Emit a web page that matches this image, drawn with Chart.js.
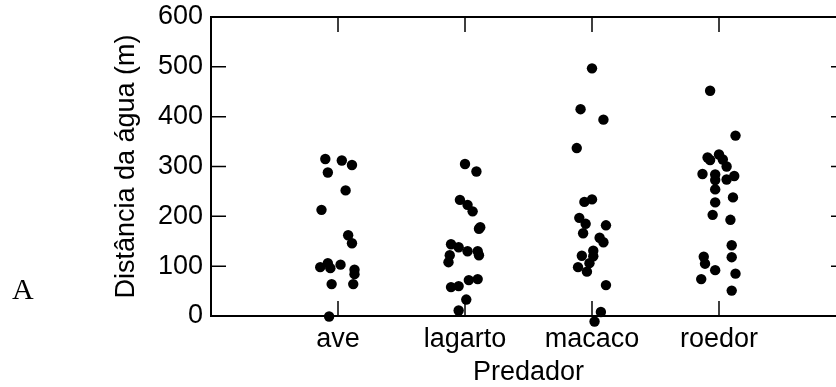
<!DOCTYPE html>
<html>
<head>
<meta charset="utf-8">
<script src="https://cdn.jsdelivr.net/npm/chart.js@4.4.1/dist/chart.umd.min.js"></script>
<style>
  html, body { margin: 0; padding: 0; background: #fff; overflow: hidden; }
  #wrap { width: 860px; height: 387px; }
</style>
</head>
<body>
<div id="wrap"><canvas id="chart" width="860" height="387"></canvas></div>
<script>
// categories on the x axis
const predadores = ['ave', 'lagarto', 'macaco', 'roedor']
const yTicks = [0, 100, 200, 300, 400, 500, 600]

const aveY = [315, 312, 303, 288, 252, 213, 162, 146, 98, 106, 96, 103, 93, 84, 64, 64, -1]
const aveJit = [-0.10, 0.03, 0.11, -0.08, 0.06, -0.13, 0.08, 0.11, -0.14, -0.08, -0.06, 0.02, 0.13, 0.13, -0.05, 0.12, -0.07]

const lagartoY = [305, 290, 233, 223, 210, 175, 178, 144, 138, 130, 130, 122, 122, 108, 58, 60, 72, 74, 33, 11]
const lagartoJit = [0.00, 0.09, -0.04, 0.02, 0.06, 0.11, 0.12, -0.11, -0.05, 0.02, 0.10, 0.11, -0.12, -0.13, -0.11, -0.05, 0.03, 0.10, 0.01, -0.05]

const macacoY = [497, 415, 394, 337, 229, 234, 197, 185, 182, 166, 157, 148, 131, 121, 120, 106, 98, 89, 62, 8, -11]
const macacoJit = [0.00, -0.09, 0.09, -0.12, -0.06, 0.00, -0.10, -0.05, 0.11, -0.07, 0.06, 0.09, 0.01, -0.08, 0.01, -0.02, -0.11, -0.04, 0.11, 0.07, 0.02]

const roedorY = [452, 362, 318, 313, 324, 314, 300, 285, 284, 281, 274, 273, 254, 238, 228, 203, 193, 142, 119, 118, 105, 92, 85, 74, 51]
const roedorJit = [-0.07, 0.13, -0.09, -0.07, 0.00, 0.03, 0.06, -0.13, -0.03, 0.12, 0.06, -0.03, -0.03, 0.11, -0.03, -0.05, 0.09, 0.10, -0.12, 0.10, -0.11, -0.03, 0.13, -0.14, 0.10]

const FONT = '"Liberation Sans", Arial, sans-serif'

function points(pos, jit, ys) {
    return ys.map((v, i) => ({ x: pos + jit[i], y: v }))
}

function dataset(pos, jit, ys) {
    return {
        data: points(pos, jit, ys),
        backgroundColor: '#000',
        borderWidth: 0,
        pointRadius: 5.2,
        // bigger hover radius only widens the margin so dots just below the axis are still drawn
        pointHoverRadius: 12,
        clip: false
    }
}

// box round the plot with inward ticks, drawn from the scales
const framePlugin = {
    id: 'frame',
    beforeDatasetsDraw(chart) {
        const { ctx, chartArea: a, scales: { x, y } } = chart
        const tl = 15
        ctx.save()
        ctx.strokeStyle = '#000'
        ctx.lineWidth = 1.5
        ctx.beginPath()
        predadores.forEach((c, i) => {
            const px = x.getPixelForValue(i + 1)
            ctx.moveTo(px, a.bottom); ctx.lineTo(px, a.bottom - tl)
            ctx.moveTo(px, a.top); ctx.lineTo(px, a.top + tl)
        })
        yTicks.forEach(v => {
            const py = y.getPixelForValue(v)
            ctx.moveTo(a.left, py); ctx.lineTo(a.left + tl, py)
            ctx.moveTo(a.right, py); ctx.lineTo(a.right - tl, py)
        })
        ctx.stroke()
        ctx.lineWidth = 2
        ctx.strokeRect(a.left, a.top, a.right - a.left, a.bottom - a.top)
        ctx.restore()
    },
    afterDraw(chart) {
        const ctx = chart.ctx
        ctx.save()
        ctx.fillStyle = '#000'
        ctx.font = '30px "Liberation Serif", "Times New Roman", serif'
        ctx.textBaseline = 'alphabetic'
        ctx.fillText('A', 12, 299)
        ctx.restore()
    }
}

new Chart(document.getElementById('chart'), {
    type: 'scatter',
    data: {
        datasets: [
            dataset(1, aveJit, aveY),
            dataset(2, lagartoJit, lagartoY),
            dataset(3, macacoJit, macacoY),
            dataset(4, roedorJit, roedorY)
        ]
    },
    options: {
        responsive: false,
        animation: false,
        events: [],
        layout: { padding: { top: 17, right: 14, left: 0, bottom: 0 } },
        scales: {
            x: {
                type: 'linear',
                min: 0,
                max: 5,
                grid: { display: false, drawTicks: false },
                border: { display: false },
                afterBuildTicks: s => { s.ticks = predadores.map((c, i) => ({ value: i + 1 })) },
                afterFit: s => { s.height = 71; s.paddingLeft = 0; s.paddingRight = 0 },
                ticks: {
                    padding: 7,
                    color: '#000',
                    font: { family: FONT, size: 27, lineHeight: 1.2 },
                    callback: v => predadores[v - 1] || ''
                },
                title: {
                    display: true,
                    text: 'Predador',
                    color: '#000',
                    font: { family: FONT, size: 27, lineHeight: 1 },
                    padding: { top: 0, bottom: 1 }
                }
            },
            y: {
                min: 0,
                max: 600,
                grid: { display: false, drawTicks: false },
                border: { display: false },
                afterFit: s => { s.width = 211; s.paddingTop = 0; s.paddingBottom = 0 },
                ticks: {
                    stepSize: 100,
                    padding: 8,
                    color: '#000',
                    font: { family: FONT, size: 27 }
                },
                title: {
                    display: true,
                    text: 'Distância da água (m)',
                    color: '#000',
                    font: { family: FONT, size: 27, lineHeight: 1 },
                    padding: { top: 113, bottom: 0 }
                }
            }
        },
        plugins: {
            legend: { display: false },
            tooltip: { enabled: false }
        }
    },
    plugins: [framePlugin]
})
</script>
</body>
</html>
